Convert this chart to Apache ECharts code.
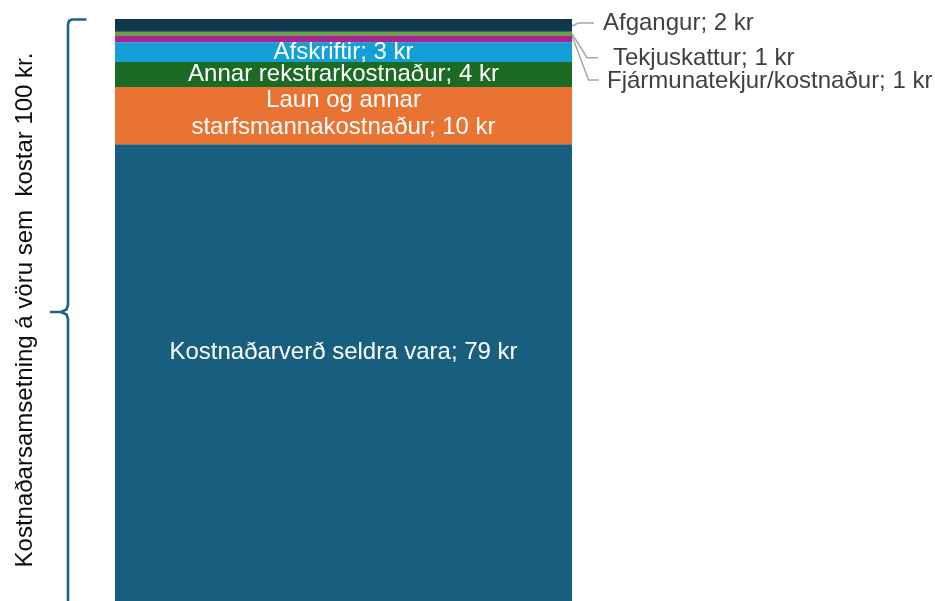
<!DOCTYPE html>
<html>
<head>
<meta charset="utf-8">
<script src="https://cdn.jsdelivr.net/npm/echarts@6/dist/echarts.min.js"></script>
<style>html,body{margin:0;padding:0;background:#fff}#c{width:935px;height:601px}</style>
</head>
<body>
<div id="c"></div>
<script>
const categories = ['Vara'];
const seriesNames = ['Kostnaðarverð seldra vara', 'Laun og annar\nstarfsmannakostnaður', 'Annar rekstrarkostnaður', 'Afskriftir', 'Fjármunatekjur/kostnaður', 'Tekjuskattur', 'Afgangur'];
const seriesValues = [78.5, 9.8, 4.3, 3.4, 1.2, 0.6, 2.2];
const labelValues = [79, 10, 4, 3, 1, 1, 2];
const seriesColors = ['#175E7F', '#E97333', '#1B6B24', '#12A0D6', '#A2288F', '#5BAA3A', '#0F384D'];
const axisTitle = 'Kostnaðarsamsetning á vöru sem  kostar 100 kr.';

const FONT = '"Liberation Sans", Arial, sans-serif';
const FS = 24;
const chart = echarts.init(document.getElementById('c'), null, {renderer: 'canvas'});

// outside label placement for the thin top segments (label anchor + leader-line shape)
const outside = {
  4: {x: 607, y: 81, startFrac: 0.05, bend: [16.6, 80], end: [26.6, 80]},
  5: {x: 613, y: 58, startFrac: 0.5, bend: [15, 57.7], end: [26, 57.7]},
  6: {x: 603, y: 23, startFrac: 0.55, bend: [6.3, 23], end: [22, 23]}
};

const series = seriesNames.map((name, i) => {
  const s = {
    name: name,
    type: 'bar',
    stack: 'total',
    barWidth: '100%',
    data: [seriesValues[i]],
    itemStyle: {color: seriesColors[i]},
    silent: true,
    label: {
      show: true,
      formatter: name + '; ' + labelValues[i] + ' kr',
      fontFamily: FONT,
      fontSize: FS,
      lineHeight: 27
    }
  };
  if (outside[i]) {
    const o = outside[i];
    s.label.position = 'right';
    s.label.color = '#404040';
    s.labelLayout = function () {
      return {x: o.x, y: o.y, align: 'left', verticalAlign: 'middle'};
    };
  } else {
    s.label.position = 'inside';
    s.label.color = '#FFFFFF';
    if (i === 0) s.label.offset = [0, -20];
    if (i === 1) s.label.offset = [0, -2];
  }
  return s;
});

const braceStyle = {fill: null, stroke: '#1C6489', lineWidth: 2.6};

chart.setOption({
  animation: false,
  grid: {left: 115, right: 363, top: 19, bottom: 0, containLabel: false},
  xAxis: {
    type: 'category', data: categories,
    axisLine: {show: false}, axisTick: {show: false}, axisLabel: {show: false}, splitLine: {show: false}
  },
  yAxis: {
    type: 'value', min: 0, max: 100,
    axisLine: {show: false}, axisTick: {show: false}, axisLabel: {show: false}, splitLine: {show: false},
    name: axisTitle, nameLocation: 'middle', nameRotate: 90, nameGap: 78,
    nameTextStyle: {fontFamily: FONT, fontSize: FS, color: '#0D0D0D'}
  },
  series: series
});

// leader lines, anchored to the bar segments via the chart's own coordinate conversion
const graphics = [
  {type: 'polyline', silent: true, shape: {points: [[86.5,19.5],[72,19.5],[69.2,20.8],[68,24],[68,305],[66.5,309.5],[61,312],[50,312]]}, style: braceStyle},
  {type: 'polyline', silent: true, shape: {points: [[61,312],[66.5,314.5],[68,319],[68,601]]}, style: braceStyle}
];
let cum = 0;
seriesValues.forEach((v, i) => {
  const lo = cum, hi = cum + v;
  cum = hi;
  const o = outside[i];
  if (!o) return;
  const pLo = chart.convertToPixel({gridIndex: 0}, [0, lo]);
  const pHi = chart.convertToPixel({gridIndex: 0}, [0, hi]);
  const rightX = chart.convertToPixel({gridIndex: 0}, [0, 0])[0] + 457 / 2;
  const sy = pHi[1] + (pLo[1] - pHi[1]) * o.startFrac;
  graphics.push({
    type: 'polyline', silent: true,
    shape: {points: [[rightX, sy], [rightX + o.bend[0], o.bend[1]], [rightX + o.end[0], o.end[1]]]},
    style: {fill: null, stroke: '#A6A6A6', lineWidth: 1.5}
  });
});
chart.setOption({graphic: graphics});
</script>
</body>
</html>
